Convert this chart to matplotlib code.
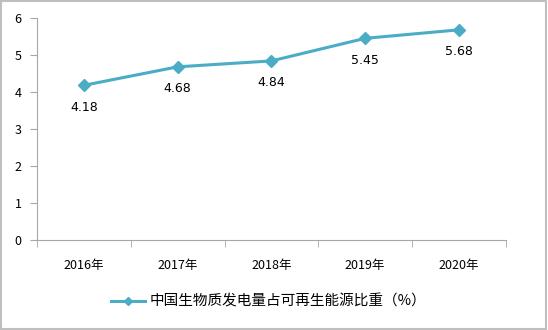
import matplotlib.pyplot as plt
import numpy as np

plt.rcParams['font.family'] = ['Noto Sans CJK SC', 'DejaVu Sans']

years = ['2016年', '2017年', '2018年', '2019年', '2020年']
share = [4.18, 4.68, 4.84, 5.45, 5.68]
series_name = '中国生物质发电量占可再生能源比重（%）'

line_color = '#4BACC6'
axis_color = '#A6A6A6'

fig = plt.figure(figsize=(5.48, 3.30), dpi=100)
ax = fig.add_axes([0.0675, 0.2727, 0.8555, 0.6728])

x = np.arange(len(years))
ax.plot(x, share, color=line_color, linewidth=2.2, marker='D', markersize=6,
        label=series_name)

for xi, v in zip(x, share):
    ax.annotate(f'{v:.2f}', (xi, v), xytext=(0, -11), textcoords='offset points',
                ha='center', va='top', fontsize=9, family=['DejaVu Sans'])

ax.set_xlim(-0.5, len(years) - 0.5)
ax.set_ylim(0, 6)
ax.set_yticks(range(0, 7))
ax.set_xticks(x)
ax.set_xticklabels(years, fontsize=9)
ax.set_xticks(np.arange(-0.5, len(years)), minor=True)
ax.tick_params(axis='x', which='major', length=0, pad=14)
ax.tick_params(axis='x', which='minor', length=5, color=axis_color, direction='out')
ax.tick_params(axis='y', length=5, color=axis_color, labelsize=9, pad=6)

for side in ['top', 'right']:
    ax.spines[side].set_visible(False)
for side in ['left', 'bottom']:
    ax.spines[side].set_color(axis_color)

fig.legend(loc='center', bbox_to_anchor=(0.49, 0.085), frameon=False, fontsize=10.5,
           handlelength=2.3, handletextpad=0.3, markerscale=0.75)

fig.patches.append(plt.Rectangle((0.002, 0.003), 0.995, 0.993, transform=fig.transFigure,
                                 fill=False, edgecolor='#BFBFBF', linewidth=1.5))

fig.savefig('out.png', dpi=100)
